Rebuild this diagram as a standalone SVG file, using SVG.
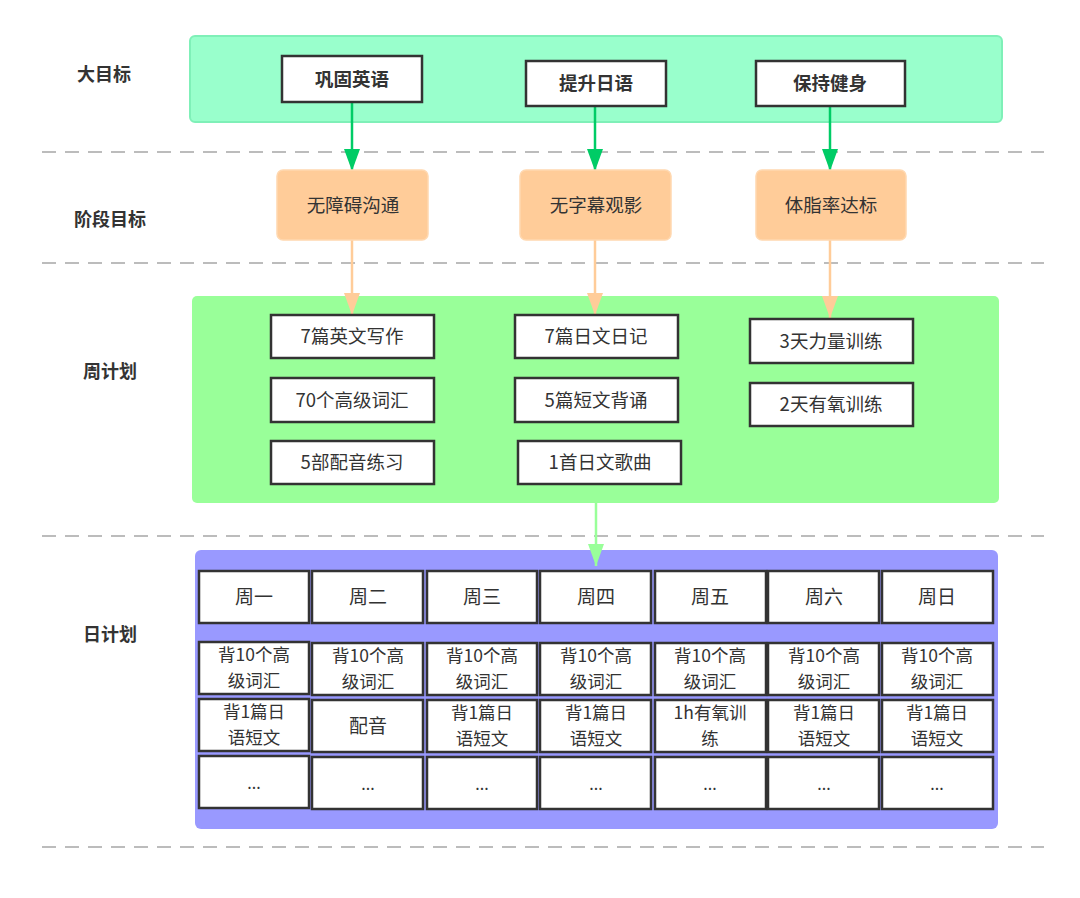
<svg xmlns="http://www.w3.org/2000/svg" width="1080" height="898" viewBox="0 0 1080 898">
<style>
text{font-family:"Noto Sans CJK SC","Liberation Sans",sans-serif;fill:#333;text-anchor:middle}
.lbl{font-size:18px;font-weight:bold}
.top{font-size:18.5px;font-weight:bold}
.t18{font-size:18.5px}
.t19{font-size:19px}
.two{font-size:17.5px}
.dots{font-size:16px}
.box{fill:#fff;stroke:#333;stroke-width:2.5}
.cell{fill:#fff;stroke:#333;stroke-width:2.5}
.dash{stroke:#a6a6a6;stroke-width:1.6;stroke-dasharray:14 9;fill:none}
.orange{fill:#ffcc99;stroke:#ffd8b0;stroke-width:1.5}
</style>
<defs>
<marker id="ag" markerUnits="userSpaceOnUse" markerWidth="22" markerHeight="16" refX="22" refY="8" orient="auto" viewBox="0 0 22 16"><path d="M0,0 L22,8 L0,16 z" fill="#00cc66"/></marker>
<marker id="ao" markerUnits="userSpaceOnUse" markerWidth="22" markerHeight="16" refX="22" refY="8" orient="auto" viewBox="0 0 22 16"><path d="M0,0 L22,8 L0,16 z" fill="#ffcc99"/></marker>
<marker id="al" markerUnits="userSpaceOnUse" markerWidth="22" markerHeight="16" refX="22" refY="8" orient="auto" viewBox="0 0 22 16"><path d="M0,0 L22,8 L0,16 z" fill="#99ff99"/></marker>
</defs>
<rect width="1080" height="898" fill="#fff"/>

<g id="dividers">
<line class="dash" x1="42" y1="152" x2="1044" y2="152"/>
<line class="dash" x1="42" y1="263" x2="1044" y2="263"/>
<line class="dash" x1="42" y1="536" x2="1044" y2="536"/>
<line class="dash" x1="42" y1="847" x2="1044" y2="847"/>
</g>

<g id="labels">
<text class="lbl" x="104" y="81">大目标</text>
<text class="lbl" x="110" y="226">阶段目标</text>
<text class="lbl" x="110" y="378">周计划</text>
<text class="lbl" x="110" y="641">日计划</text>
</g>

<g id="panel-goals"><rect x="190" y="36" width="812" height="86" rx="5" fill="#99ffcc" stroke="#7ff0b8" stroke-width="2"/></g>
<g id="panel-week"><rect x="192" y="296" width="807" height="207" rx="5" fill="#99ff99"/></g>
<g id="panel-day"><rect x="195" y="550" width="803" height="279" rx="6" fill="#9999ff"/></g>

<g id="connectors">
<line x1="352" y1="102" x2="352" y2="171" stroke="#00cc66" stroke-width="2.5" marker-end="url(#ag)"/>
<line x1="595" y1="106" x2="595" y2="171" stroke="#00cc66" stroke-width="2.5" marker-end="url(#ag)"/>
<line x1="830" y1="106" x2="830" y2="171" stroke="#00cc66" stroke-width="2.5" marker-end="url(#ag)"/>
<line x1="352" y1="240" x2="352" y2="315" stroke="#ffcc99" stroke-width="2.5" marker-end="url(#ao)"/>
<line x1="595" y1="240" x2="595" y2="315" stroke="#ffcc99" stroke-width="2.5" marker-end="url(#ao)"/>
<line x1="830" y1="240" x2="830" y2="318" stroke="#ffcc99" stroke-width="2.5" marker-end="url(#ao)"/>
<line x1="596" y1="503" x2="596" y2="566" stroke="#99ff99" stroke-width="2.5" marker-end="url(#al)"/>
</g>

<g id="goal-en"><rect class="box" x="282" y="56" width="140" height="46"/><text class="top" x="352" y="86">巩固英语</text></g>
<g id="goal-jp"><rect class="box" x="526" y="61" width="140" height="45"/><text class="top" x="596" y="90">提升日语</text></g>
<g id="goal-fit"><rect class="box" x="756" y="61" width="149" height="45"/><text class="top" x="830" y="90">保持健身</text></g>

<g id="stage-en"><rect class="orange" x="277" y="170" width="151" height="70" rx="6"/><text class="t18" x="353" y="212">无障碍沟通</text></g>
<g id="stage-jp"><rect class="orange" x="520" y="170" width="151" height="70" rx="6"/><text class="t18" x="596" y="212">无字幕观影</text></g>
<g id="stage-fit"><rect class="orange" x="756" y="170" width="150" height="70" rx="6"/><text class="t18" x="831" y="212">体脂率达标</text></g>

<g id="w-en1"><rect class="box" x="271" y="315" width="163" height="43"/><text class="t18" x="352" y="343">7篇英文写作</text></g>
<g id="w-en2"><rect class="box" x="271" y="378" width="163" height="44"/><text class="t18" x="352" y="406.5">70个高级词汇</text></g>
<g id="w-en3"><rect class="box" x="271" y="441" width="163" height="43"/><text class="t18" x="352" y="469">5部配音练习</text></g>
<g id="w-jp1"><rect class="box" x="515" y="315" width="163" height="43"/><text class="t18" x="596" y="343">7篇日文日记</text></g>
<g id="w-jp2"><rect class="box" x="515" y="378" width="163" height="44"/><text class="t18" x="596" y="406.5">5篇短文背诵</text></g>
<g id="w-jp3"><rect class="box" x="518" y="441" width="163" height="43"/><text class="t18" x="600" y="469">1首日文歌曲</text></g>
<g id="w-fit1"><rect class="box" x="750" y="319" width="163" height="44"/><text class="t18" x="831" y="347.5">3天力量训练</text></g>
<g id="w-fit2"><rect class="box" x="750" y="383" width="163" height="43"/><text class="t18" x="831" y="411">2天有氧训练</text></g>

<g id="day-headers">
<rect class="cell" x="199" y="571" width="110" height="52"/><text class="t19" x="254" y="604">周一</text>
<rect class="cell" x="312" y="571" width="111" height="52"/><text class="t19" x="368" y="604">周二</text>
<rect class="cell" x="427" y="571" width="110" height="52"/><text class="t19" x="482" y="604">周三</text>
<rect class="cell" x="540" y="571" width="111" height="52"/><text class="t19" x="596" y="604">周四</text>
<rect class="cell" x="655" y="571" width="111" height="52"/><text class="t19" x="710" y="604">周五</text>
<rect class="cell" x="768" y="571" width="111" height="52"/><text class="t19" x="824" y="604">周六</text>
<rect class="cell" x="882" y="571" width="111" height="52"/><text class="t19" x="937" y="604">周日</text>
</g>

<g id="day-row1">
<rect class="cell" x="199" y="642" width="110" height="52"/><text class="two" x="254" y="661">背10个高<tspan x="254" dy="26">级词汇</tspan></text>
<rect class="cell" x="312" y="643" width="111" height="52"/><text class="two" x="368" y="662">背10个高<tspan x="368" dy="26">级词汇</tspan></text>
<rect class="cell" x="427" y="643" width="110" height="52"/><text class="two" x="482" y="662">背10个高<tspan x="482" dy="26">级词汇</tspan></text>
<rect class="cell" x="540" y="643" width="111" height="52"/><text class="two" x="596" y="662">背10个高<tspan x="596" dy="26">级词汇</tspan></text>
<rect class="cell" x="655" y="643" width="111" height="52"/><text class="two" x="710" y="662">背10个高<tspan x="710" dy="26">级词汇</tspan></text>
<rect class="cell" x="768" y="643" width="111" height="52"/><text class="two" x="824" y="662">背10个高<tspan x="824" dy="26">级词汇</tspan></text>
<rect class="cell" x="882" y="643" width="111" height="52"/><text class="two" x="937" y="662">背10个高<tspan x="937" dy="26">级词汇</tspan></text>
</g>

<g id="day-row2">
<rect class="cell" x="199" y="699" width="110" height="52"/><text class="two" x="254" y="718">背1篇日<tspan x="254" dy="26">语短文</tspan></text>
<rect class="cell" x="312" y="700" width="111" height="52"/><text class="t19" x="368" y="733">配音</text>
<rect class="cell" x="427" y="700" width="110" height="52"/><text class="two" x="482" y="719">背1篇日<tspan x="482" dy="26">语短文</tspan></text>
<rect class="cell" x="540" y="700" width="111" height="52"/><text class="two" x="596" y="719">背1篇日<tspan x="596" dy="26">语短文</tspan></text>
<rect class="cell" x="655" y="700" width="111" height="52"/><text class="two" x="710" y="719">1h有氧训<tspan x="710" dy="26">练</tspan></text>
<rect class="cell" x="768" y="700" width="111" height="52"/><text class="two" x="824" y="719">背1篇日<tspan x="824" dy="26">语短文</tspan></text>
<rect class="cell" x="882" y="700" width="111" height="52"/><text class="two" x="937" y="719">背1篇日<tspan x="937" dy="26">语短文</tspan></text>
</g>

<g id="day-row3">
<rect class="cell" x="199" y="756" width="110" height="52"/><text class="dots" x="254" y="789">...</text>
<rect class="cell" x="312" y="757" width="111" height="52"/><text class="dots" x="368" y="790">...</text>
<rect class="cell" x="427" y="757" width="110" height="52"/><text class="dots" x="482" y="790">...</text>
<rect class="cell" x="540" y="757" width="111" height="52"/><text class="dots" x="596" y="790">...</text>
<rect class="cell" x="655" y="757" width="111" height="52"/><text class="dots" x="710" y="790">...</text>
<rect class="cell" x="768" y="757" width="111" height="52"/><text class="dots" x="824" y="790">...</text>
<rect class="cell" x="882" y="757" width="111" height="52"/><text class="dots" x="937" y="790">...</text>
</g>
</svg>
